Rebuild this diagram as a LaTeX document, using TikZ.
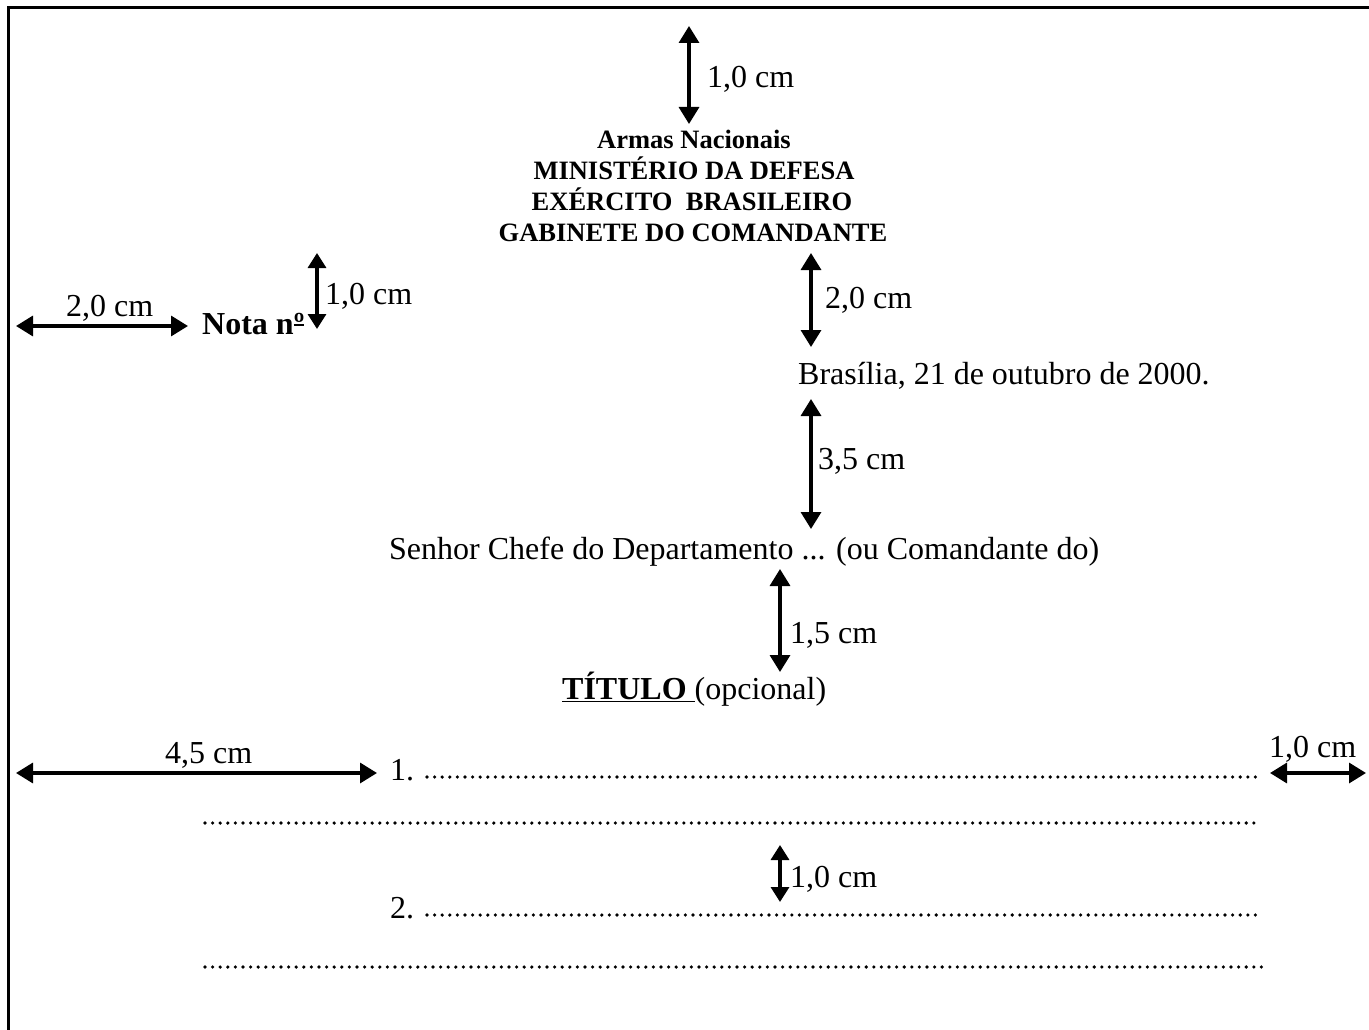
\documentclass[tikz,border=0pt]{standalone}
\usepackage{fontspec}
\setmainfont{Liberation Serif}
\usetikzlibrary{arrows.meta}
\begin{document}
\begin{tikzpicture}[x=1pt,y=-1pt,
  dim/.style={line width=3.3pt,{Triangle[width=20pt,length=17pt]}-{Triangle[width=20pt,length=17pt]}},
  sdim/.style={line width=3.3pt,{Triangle[width=18pt,length=15pt]}-{Triangle[width=18pt,length=15pt]}},
  txt/.style={anchor=base west,inner sep=0pt,font=\fontsize{32}{38}\selectfont},
  head/.style={anchor=base,inner sep=0pt,font=\bfseries\fontsize{26.5}{30}\selectfont},
  dots/.style={line width=3.6pt,line cap=round,dash pattern=on 0pt off 7.6pt},
  frame/.style={line width=3pt}]
\useasboundingbox (0,0) rectangle (1369,1030);
% frame
\draw[frame] (8,1031) -- (8,8) -- (1370,8);

% header
\node[head] (h1) at (694,149) {Armas Nacionais};
\node[head] (h2) at (694,180) {MINISTÉRIO DA DEFESA};
\node[head] (h3) at (692,211) {EXÉRCITO\ \ BRASILEIRO};
\node[head] (h4) at (693,241) {GABINETE DO COMANDANTE};
\coordinate (a1t) at (689,26);
\coordinate (a1b) at (689,124);
\draw[dim] (a1t) -- (a1b);
\node[txt] (l1) at (707,88) {1,0 cm};

% Nota
\node[txt,font=\bfseries\fontsize{32}{38}\selectfont] (nota) at (202,334)
  {Nota n\makebox[0pt][l]{\rule[8.5pt]{10.5pt}{1.8pt}}º};
\coordinate (a2l) at (16,326);
\coordinate (a2r) at (188,326);
\draw[dim] (a2l) -- (a2r);
\node[txt] (l2) at (66,316) {2,0 cm};
\coordinate (a3t) at (317,253);
\coordinate (a3b) at (317,329);
\draw[sdim] (a3t) -- (a3b);
\node[txt] (l3) at (325,304) {1,0 cm};

% date
\coordinate (a4t) at (811,253);
\coordinate (a4b) at (811,347);
\draw[dim] (a4t) -- (a4b);
\node[txt] (l4) at (825,308) {2,0 cm};
\node[txt] (date) at (798,384) {Brasília, 21 de outubro de 2000.};
\coordinate (a5t) at (811,399);
\coordinate (a5b) at (811,529);
\draw[dim] (a5t) -- (a5b);
\node[txt] (l5) at (818,469) {3,5 cm};

% addressee
\node[txt] (senhor) at (389,559) {Senhor Chefe do Departamento ... (ou Comandante do)};
\coordinate (a6t) at (780,569);
\coordinate (a6b) at (780,672);
\draw[dim] (a6t) -- (a6b);
\node[txt] (l6) at (790,643) {1,5 cm};
\node[txt] (titulo) at (562,699) {\underline{\textbf{TÍTULO}\ }(opcional)};

% paragraph 1
\coordinate (a7l) at (16,773);
\coordinate (a7r) at (377,773);
\draw[dim] (a7l) -- (a7r);
\node[txt] (l7) at (165,763) {4,5 cm};
\node[txt] (p1) at (390,780) {1.};
\coordinate (d1s) at (427,777);
\coordinate (d1e) at (1260,777);
\draw[dots] (d1s) -- (d1e);
\coordinate (a8l) at (1270,773);
\coordinate (a8r) at (1366,773);
\draw[dim] (a8l) -- (a8r);
\node[txt] (l8) at (1269,757) {1,0 cm};
\coordinate (d2s) at (205,823);
\coordinate (d2e) at (1256,823);
\draw[dots] (d2s) -- (d2e);

% paragraph 2
\coordinate (a9t) at (780,845);
\coordinate (a9b) at (780,902);
\draw[sdim] (a9t) -- (a9b);
\node[txt] (l9) at (790,887) {1,0 cm};
\node[txt] (p2) at (390,918) {2.};
\coordinate (d3s) at (427,915);
\coordinate (d3e) at (1260,915);
\draw[dots] (d3s) -- (d3e);
\coordinate (d4s) at (205,967);
\coordinate (d4e) at (1263,967);
\draw[dots] (d4s) -- (d4e);
\end{tikzpicture}
\end{document}
